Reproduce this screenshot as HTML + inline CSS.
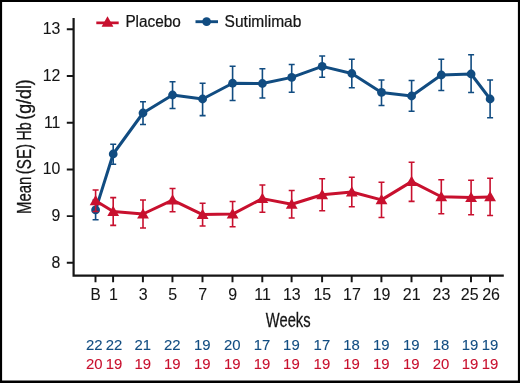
<!DOCTYPE html>
<html lang="en"><head><meta charset="utf-8"><title>Mean (SE) Hb by week</title>
<style>
html,body{margin:0;padding:0;background:#fff;}
#fig{position:relative;width:520px;height:383px;overflow:hidden;background:#fff;}
</style></head><body>
<div id="fig">
<svg width="520" height="383" viewBox="0 0 520 383" style="position:absolute;left:0;top:0;font-family:'Liberation Sans',sans-serif">
<path d="M73.6 18V275.7H503.8" stroke="#151515" stroke-width="2.2" fill="none" stroke-linejoin="miter"/>
<path d="M66.8 29.30H73.5M66.8 76.00H73.5M66.8 122.70H73.5M66.8 169.40H73.5M66.8 216.10H73.5M66.8 262.80H73.5M95.50 275.7V282.3M113.10 275.7V282.3M142.90 275.7V282.3M172.45 275.7V282.3M202.50 275.7V282.3M232.50 275.7V282.3M262.30 275.7V282.3M291.60 275.7V282.3M322.10 275.7V282.3M351.70 275.7V282.3M381.40 275.7V282.3M411.50 275.7V282.3M441.20 275.7V282.3M471.00 275.7V282.3M490.00 275.7V282.3" stroke="#151515" stroke-width="1.95" fill="none"/>
<text transform="translate(60.40 34.25) scale(0.91 1)" font-size="17.4" text-anchor="end" fill="#151515" stroke="#151515" stroke-width="0.1">13</text>
<text transform="translate(60.40 80.95) scale(0.91 1)" font-size="17.4" text-anchor="end" fill="#151515" stroke="#151515" stroke-width="0.1">12</text>
<text transform="translate(60.40 127.65) scale(0.91 1)" font-size="17.4" text-anchor="end" fill="#151515" stroke="#151515" stroke-width="0.1">11</text>
<text transform="translate(60.40 174.35) scale(0.91 1)" font-size="17.4" text-anchor="end" fill="#151515" stroke="#151515" stroke-width="0.1">10</text>
<text transform="translate(60.40 221.05) scale(0.91 1)" font-size="17.4" text-anchor="end" fill="#151515" stroke="#151515" stroke-width="0.1">9</text>
<text transform="translate(60.40 267.75) scale(0.91 1)" font-size="17.4" text-anchor="end" fill="#151515" stroke="#151515" stroke-width="0.1">8</text>
<text transform="translate(95.70 300.30) scale(0.88 1)" font-size="17.4" text-anchor="middle" fill="#151515" stroke="#151515" stroke-width="0.1">B</text>
<text transform="translate(113.40 300.30) scale(0.92 1)" font-size="17.4" text-anchor="middle" fill="#151515" stroke="#151515" stroke-width="0.1">1</text>
<text transform="translate(143.10 300.30) scale(0.92 1)" font-size="17.4" text-anchor="middle" fill="#151515" stroke="#151515" stroke-width="0.1">3</text>
<text transform="translate(172.65 300.30) scale(0.92 1)" font-size="17.4" text-anchor="middle" fill="#151515" stroke="#151515" stroke-width="0.1">5</text>
<text transform="translate(202.70 300.30) scale(0.92 1)" font-size="17.4" text-anchor="middle" fill="#151515" stroke="#151515" stroke-width="0.1">7</text>
<text transform="translate(232.70 300.30) scale(0.92 1)" font-size="17.4" text-anchor="middle" fill="#151515" stroke="#151515" stroke-width="0.1">9</text>
<text transform="translate(262.50 300.30) scale(0.92 1)" font-size="17.4" text-anchor="middle" fill="#151515" stroke="#151515" stroke-width="0.1">11</text>
<text transform="translate(291.80 300.30) scale(0.92 1)" font-size="17.4" text-anchor="middle" fill="#151515" stroke="#151515" stroke-width="0.1">13</text>
<text transform="translate(322.30 300.30) scale(0.92 1)" font-size="17.4" text-anchor="middle" fill="#151515" stroke="#151515" stroke-width="0.1">15</text>
<text transform="translate(351.90 300.30) scale(0.92 1)" font-size="17.4" text-anchor="middle" fill="#151515" stroke="#151515" stroke-width="0.1">17</text>
<text transform="translate(381.60 300.30) scale(0.92 1)" font-size="17.4" text-anchor="middle" fill="#151515" stroke="#151515" stroke-width="0.1">19</text>
<text transform="translate(411.70 300.30) scale(0.92 1)" font-size="17.4" text-anchor="middle" fill="#151515" stroke="#151515" stroke-width="0.1">21</text>
<text transform="translate(441.40 300.30) scale(0.92 1)" font-size="17.4" text-anchor="middle" fill="#151515" stroke="#151515" stroke-width="0.1">23</text>
<text transform="translate(469.70 300.30) scale(0.92 1)" font-size="17.4" text-anchor="middle" fill="#151515" stroke="#151515" stroke-width="0.1">25</text>
<text transform="translate(491.10 300.30) scale(0.92 1)" font-size="17.4" text-anchor="middle" fill="#151515" stroke="#151515" stroke-width="0.1">26</text>
<text x="288.2" y="327.0" font-size="20.4" text-anchor="middle" textLength="44.8" lengthAdjust="spacingAndGlyphs" fill="#151515" stroke="#151515" stroke-width="0.3">Weeks</text>
<text transform="translate(31.0 195.3) rotate(-90)" font-size="19.6" text-anchor="middle" textLength="37.4" lengthAdjust="spacingAndGlyphs" fill="#151515" stroke="#151515" stroke-width="0.3">Mean</text>
<text transform="translate(31.0 159.1) rotate(-90)" font-size="19.6" text-anchor="middle" textLength="30.2" lengthAdjust="spacingAndGlyphs" fill="#151515" stroke="#151515" stroke-width="0.3">(SE)</text>
<text transform="translate(31.0 131.5) rotate(-90)" font-size="19.6" text-anchor="middle" textLength="18.2" lengthAdjust="spacingAndGlyphs" fill="#151515" stroke="#151515" stroke-width="0.3">Hb</text>
<text transform="translate(31.0 99.5) rotate(-90)" font-size="19.6" text-anchor="middle" textLength="40.6" lengthAdjust="spacingAndGlyphs" fill="#151515" stroke="#151515" stroke-width="0.3">(g/dl)</text>
<text transform="translate(94.30 350.00) scale(1 1)" font-size="14.9" text-anchor="middle" fill="#114c81" stroke="#114c81" stroke-width="0.1">22</text>
<text transform="translate(94.30 368.90) scale(1 1)" font-size="14.9" text-anchor="middle" fill="#c8102e" stroke="#c8102e" stroke-width="0.1">20</text>
<text transform="translate(114.00 350.00) scale(1 1)" font-size="14.9" text-anchor="middle" fill="#114c81" stroke="#114c81" stroke-width="0.1">22</text>
<text transform="translate(114.00 368.90) scale(1 1)" font-size="14.9" text-anchor="middle" fill="#c8102e" stroke="#c8102e" stroke-width="0.1">19</text>
<text transform="translate(142.70 350.00) scale(1 1)" font-size="14.9" text-anchor="middle" fill="#114c81" stroke="#114c81" stroke-width="0.1">21</text>
<text transform="translate(142.70 368.90) scale(1 1)" font-size="14.9" text-anchor="middle" fill="#c8102e" stroke="#c8102e" stroke-width="0.1">19</text>
<text transform="translate(172.25 350.00) scale(1 1)" font-size="14.9" text-anchor="middle" fill="#114c81" stroke="#114c81" stroke-width="0.1">22</text>
<text transform="translate(172.25 368.90) scale(1 1)" font-size="14.9" text-anchor="middle" fill="#c8102e" stroke="#c8102e" stroke-width="0.1">19</text>
<text transform="translate(202.30 350.00) scale(1 1)" font-size="14.9" text-anchor="middle" fill="#114c81" stroke="#114c81" stroke-width="0.1">19</text>
<text transform="translate(202.30 368.90) scale(1 1)" font-size="14.9" text-anchor="middle" fill="#c8102e" stroke="#c8102e" stroke-width="0.1">19</text>
<text transform="translate(232.30 350.00) scale(1 1)" font-size="14.9" text-anchor="middle" fill="#114c81" stroke="#114c81" stroke-width="0.1">20</text>
<text transform="translate(232.30 368.90) scale(1 1)" font-size="14.9" text-anchor="middle" fill="#c8102e" stroke="#c8102e" stroke-width="0.1">19</text>
<text transform="translate(262.10 350.00) scale(1 1)" font-size="14.9" text-anchor="middle" fill="#114c81" stroke="#114c81" stroke-width="0.1">17</text>
<text transform="translate(262.10 368.90) scale(1 1)" font-size="14.9" text-anchor="middle" fill="#c8102e" stroke="#c8102e" stroke-width="0.1">19</text>
<text transform="translate(291.40 350.00) scale(1 1)" font-size="14.9" text-anchor="middle" fill="#114c81" stroke="#114c81" stroke-width="0.1">19</text>
<text transform="translate(291.40 368.90) scale(1 1)" font-size="14.9" text-anchor="middle" fill="#c8102e" stroke="#c8102e" stroke-width="0.1">19</text>
<text transform="translate(321.90 350.00) scale(1 1)" font-size="14.9" text-anchor="middle" fill="#114c81" stroke="#114c81" stroke-width="0.1">17</text>
<text transform="translate(321.90 368.90) scale(1 1)" font-size="14.9" text-anchor="middle" fill="#c8102e" stroke="#c8102e" stroke-width="0.1">19</text>
<text transform="translate(351.50 350.00) scale(1 1)" font-size="14.9" text-anchor="middle" fill="#114c81" stroke="#114c81" stroke-width="0.1">18</text>
<text transform="translate(351.50 368.90) scale(1 1)" font-size="14.9" text-anchor="middle" fill="#c8102e" stroke="#c8102e" stroke-width="0.1">19</text>
<text transform="translate(381.20 350.00) scale(1 1)" font-size="14.9" text-anchor="middle" fill="#114c81" stroke="#114c81" stroke-width="0.1">19</text>
<text transform="translate(381.20 368.90) scale(1 1)" font-size="14.9" text-anchor="middle" fill="#c8102e" stroke="#c8102e" stroke-width="0.1">19</text>
<text transform="translate(411.30 350.00) scale(1 1)" font-size="14.9" text-anchor="middle" fill="#114c81" stroke="#114c81" stroke-width="0.1">19</text>
<text transform="translate(411.30 368.90) scale(1 1)" font-size="14.9" text-anchor="middle" fill="#c8102e" stroke="#c8102e" stroke-width="0.1">19</text>
<text transform="translate(441.00 350.00) scale(1 1)" font-size="14.9" text-anchor="middle" fill="#114c81" stroke="#114c81" stroke-width="0.1">18</text>
<text transform="translate(441.00 368.90) scale(1 1)" font-size="14.9" text-anchor="middle" fill="#c8102e" stroke="#c8102e" stroke-width="0.1">20</text>
<text transform="translate(470.00 350.00) scale(1 1)" font-size="14.9" text-anchor="middle" fill="#114c81" stroke="#114c81" stroke-width="0.1">19</text>
<text transform="translate(470.00 368.90) scale(1 1)" font-size="14.9" text-anchor="middle" fill="#c8102e" stroke="#c8102e" stroke-width="0.1">19</text>
<text transform="translate(490.00 350.00) scale(1 1)" font-size="14.9" text-anchor="middle" fill="#114c81" stroke="#114c81" stroke-width="0.1">19</text>
<text transform="translate(490.00 368.90) scale(1 1)" font-size="14.9" text-anchor="middle" fill="#c8102e" stroke="#c8102e" stroke-width="0.1">19</text>
<path d="M95.60 200.10V219.70M92.60 200.10h6M92.60 219.70h6M113.20 144.25V164.25M110.20 144.25h6M110.20 164.25h6M143.00 101.75V124.50M140.00 101.75h6M140.00 124.50h6M172.55 81.75V108.50M169.55 81.75h6M169.55 108.50h6M202.60 83.25V115.60M199.60 83.25h6M199.60 115.60h6M232.60 66.25V100.50M229.60 66.25h6M229.60 100.50h6M262.40 68.75V98.00M259.40 68.75h6M259.40 98.00h6M291.70 64.50V92.25M288.70 64.50h6M288.70 92.25h6M322.20 56.00V77.25M319.20 56.00h6M319.20 77.25h6M351.80 59.25V87.75M348.80 59.25h6M348.80 87.75h6M381.50 80.00V105.50M378.50 80.00h6M378.50 105.50h6M411.60 80.50V111.25M408.60 80.50h6M408.60 111.25h6M441.30 59.25V90.50M438.30 59.25h6M438.30 90.50h6M471.10 54.75V92.50M468.10 54.75h6M468.10 92.50h6M490.10 80.00V117.75M487.10 80.00h6M487.10 117.75h6" stroke="#114c81" stroke-width="1.6" fill="none"/>
<polyline points="95.60,209.90 113.20,154.00 143.00,113.00 172.55,95.00 202.60,99.00 232.60,83.25 262.40,83.50 291.70,77.40 322.20,66.40 351.80,73.50 381.50,92.40 411.60,96.00 441.30,75.00 471.10,74.00 490.10,99.00" stroke="#114c81" stroke-width="3" fill="none" stroke-linejoin="round"/>
<circle cx="95.60" cy="209.90" r="4.4" fill="#114c81"/>
<circle cx="113.20" cy="154.00" r="4.4" fill="#114c81"/>
<circle cx="143.00" cy="113.00" r="4.4" fill="#114c81"/>
<circle cx="172.55" cy="95.00" r="4.4" fill="#114c81"/>
<circle cx="202.60" cy="99.00" r="4.4" fill="#114c81"/>
<circle cx="232.60" cy="83.25" r="4.4" fill="#114c81"/>
<circle cx="262.40" cy="83.50" r="4.4" fill="#114c81"/>
<circle cx="291.70" cy="77.40" r="4.4" fill="#114c81"/>
<circle cx="322.20" cy="66.40" r="4.4" fill="#114c81"/>
<circle cx="351.80" cy="73.50" r="4.4" fill="#114c81"/>
<circle cx="381.50" cy="92.40" r="4.4" fill="#114c81"/>
<circle cx="411.60" cy="96.00" r="4.4" fill="#114c81"/>
<circle cx="441.30" cy="75.00" r="4.4" fill="#114c81"/>
<circle cx="471.10" cy="74.00" r="4.4" fill="#114c81"/>
<circle cx="490.10" cy="99.00" r="4.4" fill="#114c81"/>
<path d="M95.60 190.00V211.50M92.60 190.00h6M92.60 211.50h6M113.20 197.60V225.40M110.20 197.60h6M110.20 225.40h6M143.00 200.00V228.00M140.00 200.00h6M140.00 228.00h6M172.55 188.50V211.75M169.55 188.50h6M169.55 211.75h6M202.60 203.25V226.00M199.60 203.25h6M199.60 226.00h6M232.60 201.50V226.75M229.60 201.50h6M229.60 226.75h6M262.40 185.00V212.25M259.40 185.00h6M259.40 212.25h6M291.70 190.50V218.00M288.70 190.50h6M288.70 218.00h6M322.20 178.75V210.75M319.20 178.75h6M319.20 210.75h6M351.80 177.25V206.75M348.80 177.25h6M348.80 206.75h6M381.50 182.25V217.50M378.50 182.25h6M378.50 217.50h6M411.60 162.25V201.40M408.60 162.25h6M408.60 201.40h6M441.30 179.75V213.75M438.30 179.75h6M438.30 213.75h6M471.10 180.25V214.75M468.10 180.25h6M468.10 214.75h6M490.10 178.25V215.50M487.10 178.25h6M487.10 215.50h6" stroke="#c8102e" stroke-width="1.6" fill="none"/>
<polyline points="95.60,200.75 113.20,211.50 143.00,214.00 172.55,200.10 202.60,214.60 232.60,214.10 262.40,198.60 291.70,204.25 322.20,194.75 351.80,192.00 381.50,199.90 411.60,181.60 441.30,196.75 471.10,197.50 490.10,196.90" stroke="#c8102e" stroke-width="3" fill="none" stroke-linejoin="round"/>
<path d="M95.60 194.95L101.50 205.15H89.70Z" fill="#c8102e"/>
<path d="M113.20 205.70L119.10 215.90H107.30Z" fill="#c8102e"/>
<path d="M143.00 208.20L148.90 218.40H137.10Z" fill="#c8102e"/>
<path d="M172.55 194.30L178.45 204.50H166.65Z" fill="#c8102e"/>
<path d="M202.60 208.80L208.50 219.00H196.70Z" fill="#c8102e"/>
<path d="M232.60 208.30L238.50 218.50H226.70Z" fill="#c8102e"/>
<path d="M262.40 192.80L268.30 203.00H256.50Z" fill="#c8102e"/>
<path d="M291.70 198.45L297.60 208.65H285.80Z" fill="#c8102e"/>
<path d="M322.20 188.95L328.10 199.15H316.30Z" fill="#c8102e"/>
<path d="M351.80 186.20L357.70 196.40H345.90Z" fill="#c8102e"/>
<path d="M381.50 194.10L387.40 204.30H375.60Z" fill="#c8102e"/>
<path d="M411.60 175.80L417.50 186.00H405.70Z" fill="#c8102e"/>
<path d="M441.30 190.95L447.20 201.15H435.40Z" fill="#c8102e"/>
<path d="M471.10 191.70L477.00 201.90H465.20Z" fill="#c8102e"/>
<path d="M490.10 191.10L496.00 201.30H484.20Z" fill="#c8102e"/>
<path d="M96.3 22.85H118.7" stroke="#c8102e" stroke-width="2.7"/>
<path d="M107.5 16.3L113.4 26.8H101.6Z" fill="#c8102e"/>
<text x="125.4" y="26.6" font-size="15.8" textLength="55.4" lengthAdjust="spacingAndGlyphs" fill="#151515" stroke="#151515" stroke-width="0.22">Placebo</text>
<path d="M195.5 21.7H218" stroke="#114c81" stroke-width="2.9"/>
<circle cx="206.6" cy="21.6" r="4.4" fill="#114c81"/>
<text x="224.6" y="26.6" font-size="15.8" textLength="76.8" lengthAdjust="spacingAndGlyphs" fill="#151515" stroke="#151515" stroke-width="0.22">Sutimlimab</text>
</svg>
<svg width="520" height="383" viewBox="0 0 520 383" style="position:absolute;left:0;top:0;pointer-events:none"><path fill="#000" fill-rule="evenodd" d="M0 0H520V383H0ZM2.1 2.1V380.6H517.9V2.1Z"/></svg>
</div>
</body></html>
